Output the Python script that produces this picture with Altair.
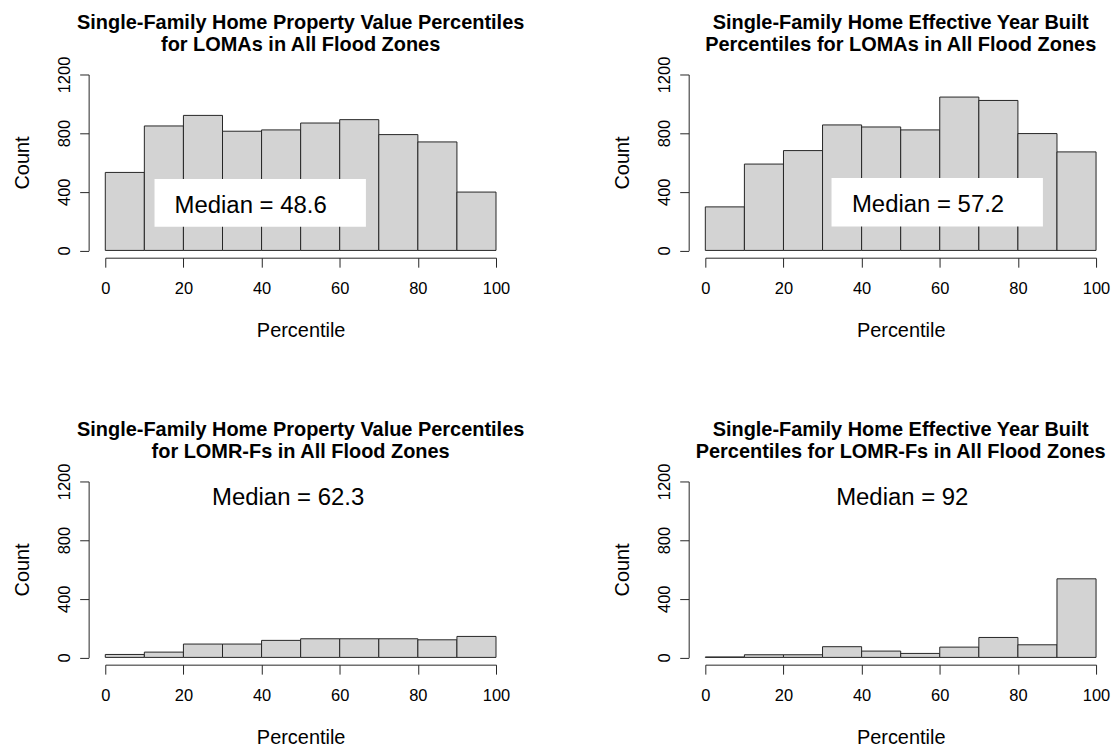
import altair as alt
import pandas as pd

# ---- data ----
bin_starts = [0, 10, 20, 30, 40, 50, 60, 70, 80, 90]
bin_ends = [10, 20, 30, 40, 50, 60, 70, 80, 90, 100]

loma_value_counts = [532, 849, 921, 813, 822, 869, 892, 790, 740, 398]
loma_year_counts = [297, 589, 681, 856, 842, 822, 1046, 1023, 797, 672]
lomr_value_counts = [20, 36, 91, 91, 116, 127, 127, 127, 120, 143]
lomr_year_counts = [3, 18, 18, 73, 43, 27, 70, 136, 86, 536]

panel_titles = [
    ["Single-Family Home Property Value Percentiles", "for LOMAs in All Flood Zones"],
    ["Single-Family Home Effective Year Built", "Percentiles for LOMAs in All Flood Zones"],
    ["Single-Family Home Property Value Percentiles", "for LOMR-Fs in All Flood Zones"],
    ["Single-Family Home Effective Year Built", "Percentiles for LOMR-Fs in All Flood Zones"],
]
median_labels = ["Median = 48.6", "Median = 57.2", "Median = 62.3", "Median = 92"]

x_ticks = [0, 20, 40, 60, 80, 100]
y_ticks = [0, 200, 400, 600, 800, 1000, 1200]

# annotation placement (data coordinates)
median_x = [37.2, 57.0, 46.8, 50.4]
median_y = [256, 261, 1041, 1041]
box_x1 = [12.6, 32.3]
box_x2 = [66.7, 86.4]
box_y1 = [161, 164]
box_y2 = [487, 494]

FONT = "Liberation Sans"
W, H = 392, 176.5


def panel(i, counts):
    df = pd.DataFrame({"start": bin_starts, "end": bin_ends, "count": counts})
    df["base"] = 0
    xs = alt.Scale(domain=[0, 100], nice=False, zero=False)
    ys = alt.Scale(domain=[0, 1200], nice=False)
    xaxis = alt.Axis(
        values=x_ticks, title="Percentile", offset=7.3, tickSize=9.5,
        labelFontSize=16.5, labelPadding=13.5, labelFlush=False,
        titleFontSize=20, titleFontWeight="normal", titlePadding=23.5,
        grid=False,
    )
    yaxis = alt.Axis(
        values=y_ticks, title="Count", offset=16.7, tickSize=9, format="d",
        labelFontSize=16.5, labelAngle=270, labelAlign="center",
        labelBaseline="alphabetic", labelPadding=10.5,
        labelExpr="datum.value % 400 == 0 ? datum.label : ''",
        titleFontSize=20, titleFontWeight="normal", titlePadding=23.4,
        grid=False,
    )
    bars = alt.Chart(df).mark_rect(
        fill="#D3D3D3", stroke="#262626", strokeWidth=1
    ).encode(
        x=alt.X("start:Q", scale=xs, axis=xaxis),
        x2="end:Q",
        y=alt.Y("count:Q", scale=ys, axis=yaxis),
        y2="base:Q",
    )
    layers = [bars]
    if i < 2:
        bdf = pd.DataFrame({"x1": [box_x1[i]], "x2": [box_x2[i]],
                            "y1": [box_y1[i]], "y2": [box_y2[i]]})
        box = alt.Chart(bdf).mark_rect(fill="white").encode(
            x=alt.X("x1:Q", scale=xs), x2="x2:Q",
            y=alt.Y("y1:Q", scale=ys), y2="y2:Q",
        )
        layers.append(box)
    tdf = pd.DataFrame({"x": [median_x[i]], "y": [median_y[i]], "t": [median_labels[i]]})
    txt = alt.Chart(tdf).mark_text(
        font=FONT, fontSize=24, align="center", baseline="alphabetic", color="black"
    ).encode(
        x=alt.X("x:Q", scale=xs), y=alt.Y("y:Q", scale=ys), text="t:N"
    )
    layers.append(txt)
    return alt.layer(*layers).properties(
        width=W, height=H,
        title=alt.TitleParams(
            text=panel_titles[i], font=FONT, fontSize=20, fontWeight="bold",
            color="black", anchor="middle", frame="group", lineHeight=22,
            baseline="alphabetic", offset=-15,
        ),
    )


charts = [
    panel(0, loma_value_counts),
    panel(1, loma_year_counts),
    panel(2, lomr_value_counts),
    panel(3, lomr_year_counts),
]

chart = alt.concat(*charts, columns=2, spacing={"row": 231.3, "column": 210}, bounds="flush").properties(
    padding={"left": 4.6, "top": 3.5, "right": 2, "bottom": 2}
).configure(
    font=FONT,
).configure_view(
    stroke=None
).configure_axis(
    domainColor="#262626", tickColor="#262626", labelColor="black",
    titleColor="black", labelFont=FONT, titleFont=FONT, domainWidth=1, tickWidth=1,
).configure_title(
    font=FONT
)

chart.save("out.html", embed_options={"renderer": "svg", "actions": False})
